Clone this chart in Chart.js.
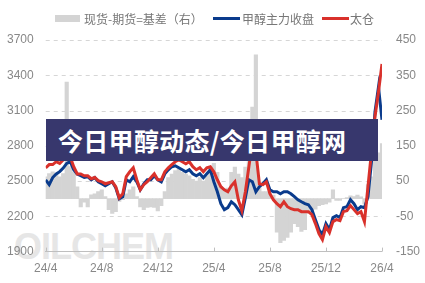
<!DOCTYPE html>
<html>
<head>
<meta charset="utf-8">
<script src="https://cdn.jsdelivr.net/npm/chart.js@4.4.1/dist/chart.umd.min.js"></script>
<style>
html,body{margin:0;padding:0;background:#fff;}
#wrap{position:relative;width:425px;height:283px;overflow:hidden;font-family:"Noto Sans CJK SC","Noto Sans",sans-serif;}
#wm{position:absolute;left:14px;top:229px;font:bold 36px "Liberation Sans",Arial,sans-serif;line-height:36px;letter-spacing:-1px;color:#e6e6e6;white-space:nowrap;}
canvas{position:absolute;left:0;top:0;}
.lg{position:absolute;top:11px;font-size:12px;line-height:16px;color:#777;white-space:nowrap;}
.sw{position:absolute;}
#banner{position:absolute;left:46px;top:119px;width:332px;height:42px;background:#37376d;color:#fff;font-weight:bold;font-size:25px;line-height:42px;padding-left:12px;box-sizing:border-box;letter-spacing:0.3px;white-space:nowrap;}
</style>
</head>
<body>
<div id="wrap">
<div id="wm">OILCHEM</div>
<canvas id="c" width="425" height="283"></canvas>
<div class="sw" style="left:55px;top:15px;width:25px;height:7px;background:#d4d4d4"></div>
<div class="lg" style="left:84px">现货-期货=基差（右）</div>
<div class="sw" style="left:213px;top:17px;width:27px;height:3px;background:#0a3b8c"></div>
<div class="lg" style="left:242px">甲醇主力收盘</div>
<div class="sw" style="left:322px;top:17px;width:27px;height:3px;background:#d9312b"></div>
<div class="lg" style="left:350px">太仓</div>
<div id="banner">今日甲醇动态/今日甲醇网</div>
</div>
<script>
const tickLabels = ['24/4','24/8','24/12','25/4','25/8','25/12','26/4'];
const stepMonths = 0.25; // sampling interval (quarter month)

const basis = [62,71,76,71,62,71,331,91,76,34,-23,-10,-23,11,14,20,25,6,-31,-42,-37,-8,-3,14,25,34,6,-23,-31,-25,-23,
-25,-35,-20,20,60,70,80,85,75,70,65,55,50,60,50,65,90,100,75,35,25,30,75,90,70,60,90,105,260,408,
40,20,20,15,10,-95,-125,-118,-110,-95,-71,-79,-93,-88,-42,-37,-30,-20,-17,-15,-10,25,-5,-5,0,3,8,6,10,5,-15,40,62,110,130,156];

const futures = [2510,2470,2530,2560,2580,2610,2650,2665,2596,2560,2545,2530,2537,2511,2530,2494,2477,2460,2477,2494,2443,2350,2367,2511,2494,2537,2494,2426,2477,2511,2511,
2545,2511,2494,2562,2596,2622,2630,2613,2596,2579,2596,2562,2545,2562,2528,2562,2596,2494,2409,2308,2257,2274,2324,2299,2257,2214,2358,2511,2494,2409,
2452,2477,2511,2426,2409,2409,2392,2409,2409,2392,2367,2341,2324,2308,2299,2257,2172,2087,2044,2138,2087,2189,2206,2189,2274,2282,2342,2308,2257,2282,2274,2367,2664,3089,3301,3021];

const taicang = [2613,2640,2640,2665,2650,2680,2750,2705,2622,2560,2560,2545,2545,2520,2530,2503,2494,2477,2486,2494,2452,2358,2392,2537,2579,2613,2511,2426,2469,2494,2528,
2562,2511,2511,2579,2613,2639,2664,2681,2664,2647,2664,2622,2596,2613,2579,2613,2622,2579,2511,2452,2426,2409,2460,2494,2341,2248,2409,2622,2834,2749,
2477,2469,2494,2392,2341,2307,2282,2324,2282,2265,2257,2257,2240,2240,2240,2214,2138,2053,2002,2112,2061,2155,2172,2163,2240,2248,2291,2257,2223,2240,2155,2452,2749,3046,3258,3496];

const pts = arr => arr.map((v,i)=>({x:i*stepMonths,y:v}));

const gridAndTicks = {
  id:'gridAndTicks',
  beforeDatasetsDraw(chart){
    const y = chart.scales.y, ctx = chart.ctx, a = chart.chartArea;
    ctx.save();
    ctx.strokeStyle = '#d6d6d6'; ctx.lineWidth = 1; ctx.setLineDash([4,4]);
    y.ticks.forEach(t=>{
      if (t.value === y.min) return;
      const py = Math.round(y.getPixelForValue(t.value))+0.5;
      ctx.beginPath(); ctx.moveTo(a.left,py); ctx.lineTo(a.right,py); ctx.stroke();
    });
    ctx.restore();
  },
  afterDraw(chart){
    const x = chart.scales.x, ctx = chart.ctx, b = chart.chartArea.bottom;
    ctx.save();
    ctx.strokeStyle = '#bfbfbf'; ctx.lineWidth = 1;
    x.ticks.forEach(t=>{
      const px = Math.round(x.getPixelForValue(t.value))+0.5;
      ctx.beginPath(); ctx.moveTo(px,b-4); ctx.lineTo(px,b); ctx.stroke();
    });
    ctx.restore();
  }
};

new Chart(document.getElementById('c'),{
  data:{
    datasets:[
      {type:'bar',label:'现货-期货=基差（右）',data:pts(basis),yAxisID:'y1',backgroundColor:'#d4d4d4',borderWidth:0,barPercentage:1,categoryPercentage:1,order:3},
      {type:'line',label:'甲醇主力收盘',data:pts(futures),yAxisID:'y',borderColor:'#0a3b8c',borderWidth:3,pointRadius:0,tension:0,order:2},
      {type:'line',label:'太仓',data:pts(taicang),yAxisID:'y',borderColor:'#d9312b',borderWidth:3,pointRadius:0,tension:0,order:1}
    ]
  },
  options:{
    responsive:false,animation:false,
    layout:{padding:{top:40,left:-5,right:-9,bottom:-3}},
    plugins:{legend:{display:false},tooltip:{enabled:false}},
    scales:{
      x:{type:'linear',min:0,max:24,offset:false,
        ticks:{stepSize:4,color:'#888',font:{size:12,family:'Liberation Sans'},padding:10,maxRotation:0,
          callback:v=>tickLabels[Math.round(v/4)]},
        grid:{drawOnChartArea:false,drawTicks:false,offset:false},
        border:{color:'#bfbfbf',width:1}},
      y:{position:'left',min:1900,max:3700,
        ticks:{stepSize:300,color:'#888',font:{size:12,family:'Liberation Sans'},padding:12,callback:v=>String(v)},
        grid:{display:false,drawTicks:false},
        border:{display:false}},
      y1:{position:'right',min:-150,max:450,
        ticks:{stepSize:100,color:'#888',font:{size:12,family:'Liberation Sans'},padding:14,callback:v=>String(v)},
        grid:{display:false,drawTicks:false},
        border:{display:false}}
    }
  },
  plugins:[gridAndTicks]
});
</script>
</body>
</html>
